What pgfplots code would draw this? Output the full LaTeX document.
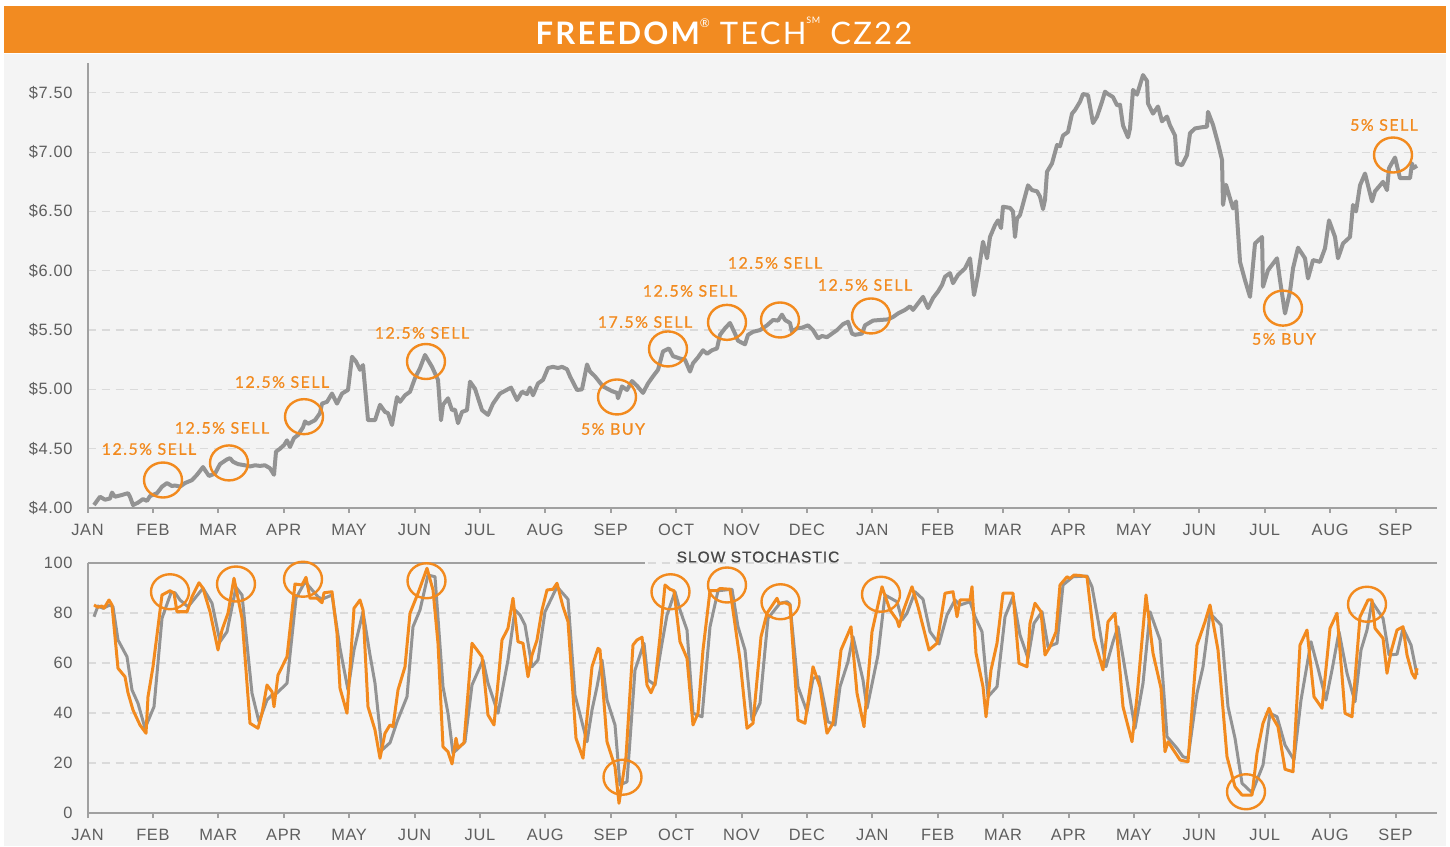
\documentclass[border=0pt]{standalone}
\usepackage{pgfplots}
\pgfplotsset{compat=1.18}
\usepackage{fontspec}
\setmainfont{Liberation Sans}
\newfontfamily\annfont[LetterSpace=9,FakeBold=0.6]{Lato}
\newfontfamily\titlefont[LetterSpace=7]{Lato}
\newfontfamily\stochfont[LetterSpace=6,FakeBold=0.5]{Liberation Sans}
\newfontfamily\tickfont[LetterSpace=4]{Liberation Sans}
\definecolor{barorange}{HTML}{F28B21}
\definecolor{lorange}{HTML}{F28A1E}
\definecolor{lgray}{HTML}{939393}
\definecolor{bggray}{HTML}{F4F4F4}
\definecolor{gridgray}{HTML}{DADADA}
\definecolor{axisgray}{HTML}{A0A0A0}
\definecolor{ticktext}{HTML}{5E5E5E}

\pgfplotsset{
  commonax/.style={
    scale only axis, width=674.75pt, anchor=south west,
    xmin=87.5, xmax=1437, clip=false,
    axis x line*=bottom, axis y line*=left,
    axis line style={-, draw=axisgray, line width=1pt},
    xtick={87.5,152.9,218.3,283.7,349.1,414.5,479.9,545.3,610.7,676.1,741.5,806.9,872.3,937.7,1003.1,1068.5,1133.9,1199.3,1264.7,1330.1,1395.5},
    xticklabels={JAN,FEB,MAR,APR,MAY,JUN,JUL,AUG,SEP,OCT,NOV,DEC,JAN,FEB,MAR,APR,MAY,JUN,JUL,AUG,SEP},
    tick align=outside, major tick length=2.5pt,
    xtick style={draw=axisgray, line width=1pt},
    ytick style={draw=none},
    ticklabel style={font=\tickfont\fontsize{8.2}{9}\selectfont, text=ticktext},
    xticklabel style={yshift=-2pt},
    yticklabel style={xshift=-1.5pt},
    ymajorgrids, grid style={dash pattern=on 4pt off 3pt, draw=gridgray, line width=0.6pt},
  }
}

\begin{document}
\begin{tikzpicture}
\useasboundingbox (0,0) rectangle (725pt,423pt);
\fill[white] (0,0) rectangle (725pt,423pt);
\fill[bggray] (2pt,0) rectangle (723pt,396pt);
\fill[barorange] (2pt,396.5pt) rectangle (723pt,420pt);
\node[anchor=base, text=white, inner sep=0pt] at (362pt,400.5pt)
  {\titlefont\fontsize{15.5}{16}\selectfont\bfseries FREEDOM\raisebox{0.55em}{\fontsize{6}{6}\selectfont\mdseries\char"00AE}\mdseries\ TECH\raisebox{0.7em}{\fontsize{4.5}{5}\selectfont SM}\ CZ22};

% ---------------- top price chart
\begin{axis}[commonax,
  at={(43.75pt,169pt)}, height=222.4pt,
  ymin=4, ymax=7.75,
  ytick={4,4.5,5,5.5,6,6.5,7,7.5},
  yticklabels={\$4.00,\$4.50,\$5.00,\$5.50,\$6.00,\$6.50,\$7.00,\$7.50},
]
\addplot[lgray, line width=2pt, line join=round] coordinates {
(94,4.025)(100,4.095)(105,4.07)(110,4.08)(112,4.13)(115,4.095)(122,4.11)(128,4.125)(130,4.095)(133,4.025)
(138,4.045)(143,4.075)(147,4.06)(150,4.10)(157,4.125)(162,4.18)(167,4.21)(172,4.185)(175,4.19)(180,4.18)
(185,4.21)(192,4.235)(197,4.28)(203,4.345)(209,4.27)(215,4.29)(220,4.37)(227,4.41)(230,4.42)(233,4.39)
(238,4.37)(245,4.36)(250,4.35)(255,4.36)(260,4.355)(265,4.36)(270,4.335)(274,4.28)(276,4.475)(280,4.50)
(284,4.53)(287,4.57)(290,4.515)(294,4.59)(298,4.615)(303,4.68)(305,4.73)(308,4.71)(315,4.74)(320,4.80)
(322,4.88)(327,4.895)(332,4.965)(337,4.88)(342,4.965)(348,4.995)(352,5.275)(356,5.235)(360,5.165)(363,5.205)
(368,4.74)(375,4.74)(380,4.87)(385,4.81)(388,4.80)(392,4.70)(397,4.935)(400,4.895)(405,4.95)(410,4.98)
(415,5.095)(420,5.18)(425,5.29)(432,5.19)(438,5.08)(441,4.74)(443,4.87)(448,4.925)(452,4.825)(455,4.83)
(458,4.715)(462,4.81)(467,4.825)(470,5.065)(475,5.005)(482,4.825)(488,4.785)(493,4.88)(500,4.965)(511,5.015)
(517,4.91)(522,4.98)(527,4.96)(530,5.015)(533,4.95)(538,5.05)(543,5.08)(548,5.18)(553,5.19)(558,5.18)
(562,5.19)(567,5.17)(570,5.11)(577,4.995)(582,5.00)(587,5.21)(590,5.15)(595,5.11)(603,5.025)(612,4.985)
(617,4.97)(618,4.925)(622,5.025)(627,4.995)(632,5.07)(637,5.03)(643,4.97)(648,5.05)(653,5.11)(658,5.165)
(663,5.32)(669,5.345)(673,5.28)(680,5.26)(685,5.25)(690,5.15)(693,5.22)(698,5.27)(703,5.33)(707,5.30)
(712,5.33)(717,5.345)(720,5.46)(725,5.515)(730,5.56)(735,5.47)(738,5.41)(745,5.38)(748,5.46)(753,5.485)
(760,5.50)(767,5.54)(773,5.585)(778,5.58)(782,5.63)(785,5.585)(790,5.56)(792,5.485)(797,5.515)(802,5.52)
(808,5.54)(813,5.50)(818,5.43)(822,5.45)(827,5.44)(832,5.47)(837,5.50)(843,5.55)(848,5.57)(852,5.47)
(855,5.46)(862,5.47)(865,5.54)(868,5.555)(873,5.58)(880,5.585)(888,5.59)(893,5.61)(898,5.64)(905,5.67)
(910,5.70)(913,5.67)(918,5.725)(923,5.78)(928,5.685)(933,5.77)(938,5.825)(942,5.88)(945,5.95)(950,5.98)
(953,5.895)(958,5.965)(965,6.02)(970,6.105)(974,5.795)(978,5.965)(983,6.245)(987,6.105)(990,6.285)(995,6.385)
(998,6.425)(1001,6.36)(1003,6.54)(1010,6.53)(1013,6.50)(1015,6.285)(1017,6.44)(1020,6.47)(1028,6.72)(1032,6.68)
(1037,6.67)(1040,6.625)(1043,6.52)(1045,6.60)(1047,6.835)(1052,6.905)(1057,7.06)(1060,7.05)(1063,7.14)(1068,7.17)
(1072,7.325)(1075,7.355)(1080,7.425)(1083,7.49)(1088,7.48)(1093,7.245)(1097,7.30)(1102,7.425)(1105,7.51)(1108,7.49)
(1113,7.465)(1117,7.395)(1120,7.40)(1123,7.225)(1128,7.125)(1130,7.20)(1133,7.525)(1137,7.485)(1143,7.65)(1147,7.60)
(1148,7.41)(1153,7.325)(1158,7.385)(1162,7.26)(1167,7.30)(1170,7.225)(1175,7.14)(1177,6.905)(1182,6.89)(1187,6.975)
(1190,7.16)(1195,7.20)(1202,7.21)(1207,7.215)(1208,7.34)(1213,7.23)(1218,7.075)(1222,6.935)(1223,6.555)(1226,6.725)
(1230,6.61)(1233,6.525)(1236,6.585)(1238,6.33)(1240,6.075)(1245,5.92)(1250,5.78)(1255,6.23)(1262,6.285)(1263,5.865)
(1268,6.005)(1277,6.105)(1280,5.92)(1285,5.64)(1290,5.825)(1293,6.02)(1298,6.195)(1305,6.105)(1308,5.935)(1313,6.09)
(1320,6.075)(1325,6.19)(1329,6.425)(1335,6.285)(1338,6.105)(1343,6.23)(1350,6.285)(1353,6.555)(1356,6.50)(1360,6.72)
(1365,6.82)(1372,6.585)(1375,6.67)(1383,6.75)(1387,6.68)(1389,6.865)(1395,6.955)(1400,6.78)(1410,6.78)(1412,6.905)
(1413,6.865)(1417,6.885)
};
\begin{scope}[lorange, line width=1.2pt]
\draw (axis cs:163,4.236) ellipse (9.5pt and 8.75pt);
\draw (axis cs:229,4.38) ellipse (9.5pt and 8.75pt);
\draw (axis cs:304,4.77) ellipse (9.5pt and 8.75pt);
\draw (axis cs:426,5.235) ellipse (9.5pt and 8.75pt);
\draw (axis cs:617,4.936) ellipse (9.5pt and 8.75pt);
\draw (axis cs:668,5.341) ellipse (9.5pt and 8.75pt);
\draw (axis cs:727,5.565) ellipse (9.5pt and 8.75pt);
\draw (axis cs:780,5.585) ellipse (9.5pt and 8.75pt);
\draw (axis cs:871,5.619) ellipse (9.5pt and 8.75pt);
\draw (axis cs:1283,5.685) ellipse (9.5pt and 8.75pt);
\draw (axis cs:1393,6.976) ellipse (9.5pt and 8.75pt);
\end{scope}
\begin{scope}[every node/.style={text=lorange, inner sep=0pt, font=\annfont\fontsize{8}{9}\selectfont}]
\node at (axis cs:149,4.497) {12.5\% SELL};
\node at (axis cs:222,4.675) {12.5\% SELL};
\node at (axis cs:282,5.062) {12.5\% SELL};
\node at (axis cs:422,5.476) {12.5\% SELL};
\node at (axis cs:613,4.666) {5\% BUY};
\node at (axis cs:645,5.568) {17.5\% SELL};
\node at (axis cs:690,5.830) {12.5\% SELL};
\node at (axis cs:775,6.066) {12.5\% SELL};
\node at (axis cs:865,5.880) {12.5\% SELL};
\node at (axis cs:1284,5.425) {5\% BUY};
\node at (axis cs:1384,7.229) {5\% SELL};
\end{scope}
\end{axis}

% ---------------- bottom stochastic chart
\begin{axis}[commonax,
  at={(43.75pt,16.5pt)}, height=125pt,
  ymin=0, ymax=100,
  ytick={0,20,40,60,80,100},
  yticklabels={0,20,40,60,80,100},
]
\addplot[lgray, line width=1.5pt, line join=round] coordinates {
(94,78.5)(98,82.8)(103,81.9)(110,83.2)(113,82.5)(118,69.2)(127,62.5)(132,49.2)(138,43.9)(145,33.9)
(154,42.5)(162,77.9)(171,88.1)(175,88.1)(180,85.2)(188,82.5)(203,89.9)(212,83.9)(220,68.5)(227,72.5)
(236,90.3)(242,87.2)(252,47.9)(259,36.5)(267,45.2)(272,47.2)(277,48.0)(287,51.9)(296,85.9)(305,92.5)
(318,86.5)(322,85.5)(332,87.2)(340,65.9)(348,49.2)(354,65.2)(363,80.5)(370,63.2)(375,51.9)(382,25.2)
(390,28.1)(397,36.5)(407,46.5)(413,74.5)(420,81.2)(428,95.2)(435,94.5)(443,50.5)(448,39.9)(453,23.9)
(465,28.5)(472,51.2)(483,61.2)(488,51.9)(498,39.9)(508,61.2)(515,81.2)(520,79.2)(525,75.2)(532,58.5)
(538,61.2)(545,80.5)(557,90.5)(568,85.5)(575,47.2)(587,28.5)(592,41.2)(597,50.5)(602,61.2)(607,45.2)
(615,35.2)(620,11.2)(627,12.5)(635,57.2)(644,67.9)(648,53.2)(655,51.2)(662,67.9)(667,79.2)(675,88.5)
(680,81.2)(687,73.2)(693,39.9)(702,38.5)(710,74.5)(718,88.9)(732,89.5)(738,74.5)(745,65.2)(752,37.2)
(760,43.9)(768,77.9)(780,83.9)(787,84.5)(790,83.5)(798,50.5)(807,40.5)(813,53.9)(819,54.5)(828,36.5)
(835,35.2)(840,50.5)(848,60.5)(853,70.5)(863,53.2)(867,41.9)(878,63.2)(885,87.2)(897,84.5)(902,77.2)
(907,79.9)(915,88.5)(923,85.5)(930,72.5)(939,67.6)(947,79.2)(955,85.2)(960,83.2)(970,84.5)(975,78.5)
(982,72.5)(988,46.5)(997,50.5)(1005,78.5)(1013,86.5)(1020,71.2)(1028,61.9)(1034,75.9)(1042,80.5)(1048,66.5)
(1057,67.9)(1063,91.2)(1073,94.5)(1087,94.8)(1092,90.5)(1098,77.2)(1106,58.5)(1113,68.5)(1118,74.5)(1124,59.9)
(1128,50.5)(1135,33.9)(1143,51.9)(1150,80.5)(1160,69.2)(1167,30.5)(1177,25.9)(1183,22.5)(1188,21.9)(1197,47.9)
(1203,58.5)(1210,79.9)(1221,75.2)(1228,42.5)(1235,29.9)(1242,11.9)(1252,8.1)(1263,19.2)(1270,39.9)(1277,38.5)
(1285,27.2)(1294,21.2)(1301,45.2)(1311,68.5)(1318,57.9)(1326,45.2)(1332,57.2)(1339,72.5)(1347,55.9)(1355,44.5)
(1361,65.2)(1367,73.2)(1372,84.5)(1383,77.9)(1389,63.2)(1397,63.5)(1403,73.9)(1411,67.2)(1417,55.2)
};
\addplot[lorange, line width=1.5pt, line join=round] coordinates {
(94,83.2)(98,82.3)(102,82.8)(104,81.9)(109,85.2)(112,83.2)(118,57.9)(125,54.5)(128,48.1)(133,41.2)
(140,35.2)(146,31.9)(148,46.5)(153,58.5)(162,87.2)(170,88.9)(174,88.0)(177,80.5)(187,80.5)(192,86.5)
(199,92.1)(203,89.9)(210,80.5)(218,65.2)(222,73.2)(228,79.9)(234,93.9)(242,77.9)(245,62.5)(250,35.9)
(258,33.9)(262,39.9)(267,51.2)(272,48.5)(274,42.5)(278,55.2)(287,62.5)(295,91.6)(302,91.2)(306,94.3)
(310,85.9)(317,85.9)(322,84.1)(324,88.1)(332,88.5)(337,71.9)(340,49.9)(347,39.9)(354,81.9)(360,85.2)
(363,81.2)(368,42.5)(375,33.2)(380,21.9)(385,31.9)(390,35.2)(393,34.5)(398,49.2)(405,58.5)(410,79.9)
(418,87.9)(427,97.9)(433,89.2)(438,67.9)(443,26.5)(448,24.5)(452,19.6)(456,29.9)(458,25.9)(464,28.1)
(472,67.9)(482,62.5)(488,39.2)(494,35.2)(502,69.2)(508,73.9)(513,85.9)(518,68.5)(523,67.9)(528,54.5)
(532,63.2)(537,69.2)(542,81.2)(547,89.2)(553,89.5)(557,91.9)(563,82.5)(568,76.5)(576,29.9)(583,21.9)
(592,58.5)(598,65.9)(600,65.2)(607,28.5)(615,18.5)(619,3.9)(626,22.5)(633,67.2)(637,69.2)(642,70.3)
(647,51.2)(651,48.1)(655,51.9)(660,70.5)(665,91.2)(670,89.5)(674,88.9)(680,68.5)(687,61.9)(693,35.2)
(698,39.9)(703,65.2)(710,88.9)(717,88.9)(720,89.8)(730,89.5)(740,61.2)(747,33.9)(753,35.9)(761,70.5)
(767,79.9)(777,85.9)(779,83.8)(785,84.1)(790,83.2)(798,37.2)(805,35.9)(813,58.5)(820,50.5)(827,31.9)
(833,35.9)(841,65.2)(851,74.5)(857,47.9)(864,34.5)(872,72.5)(882,90.5)(890,81.2)(897,77.2)(899,74.5)
(903,80.5)(912,90.5)(918,82.5)(929,65.2)(937,67.9)(945,87.9)(953,88.5)(957,78.5)(960,85.2)(970,85.2)
(972,90.5)(976,63.9)(983,50.5)(986,38.5)(991,57.2)(997,67.9)(1003,87.9)(1013,87.9)(1019,59.9)(1027,58.5)
(1030,75.9)(1035,83.9)(1041,80.5)(1045,63.2)(1050,66.5)(1056,72.5)(1060,91.2)(1067,94.5)(1070,93.8)(1074,95.2)
(1080,95.0)(1087,94.5)(1094,69.9)(1103,57.2)(1108,76.5)(1115,79.9)(1123,42.5)(1132,28.5)(1137,46.5)(1146,87.2)
(1153,63.9)(1161,49.9)(1165,24.5)(1168,28.5)(1180,21.2)(1188,20.5)(1197,67.2)(1205,76.5)(1210,83.2)(1218,65.2)
(1227,22.5)(1235,10.5)(1242,7.2)(1252,7.2)(1257,23.9)(1263,35.9)(1269,41.9)(1273,38.0)(1278,34.5)(1285,17.5)
(1293,16.5)(1300,67.2)(1307,73.2)(1314,46.5)(1322,41.9)(1330,73.9)(1337,79.9)(1345,39.9)(1352,38.5)(1360,78.5)
(1368,85.2)(1372,85.2)(1375,73.9)(1383,69.9)(1387,55.9)(1391,64.5)(1397,73.2)(1403,74.5)(1407,63.2)(1412,55.9)
(1415,53.9)(1417,57.9)
};
\draw[axisgray, line width=1.2pt] (axis cs:87.5,100) -- (axis cs:645,100);
\draw[axisgray, line width=1.2pt] (axis cs:880,100) -- (axis cs:1437,100);
\node[text=black!72, inner sep=0pt, font=\stochfont\fontsize{7.8}{9}\selectfont] at (axis cs:758,102.4) {SLOW STOCHASTIC};
\begin{scope}[lorange, line width=1.2pt]
\draw (axis cs:170,88.5) ellipse (9.5pt and 8.75pt);
\draw (axis cs:236,91.6) ellipse (9.5pt and 8.75pt);
\draw (axis cs:303,93.5) ellipse (9.5pt and 8.75pt);
\draw (axis cs:426.5,92.9) ellipse (9.5pt and 8.75pt);
\draw (axis cs:622.5,14.3) ellipse (9.5pt and 8.75pt);
\draw (axis cs:670.5,88.5) ellipse (9.5pt and 8.75pt);
\draw (axis cs:727,91.2) ellipse (9.5pt and 8.75pt);
\draw (axis cs:780.5,84.5) ellipse (9.5pt and 8.75pt);
\draw (axis cs:881,87.5) ellipse (9.5pt and 8.75pt);
\draw (axis cs:1246,8.5) ellipse (9.5pt and 8.75pt);
\draw (axis cs:1367,83.5) ellipse (9.5pt and 8.75pt);
\end{scope}
\end{axis}
\end{tikzpicture}
\end{document}
